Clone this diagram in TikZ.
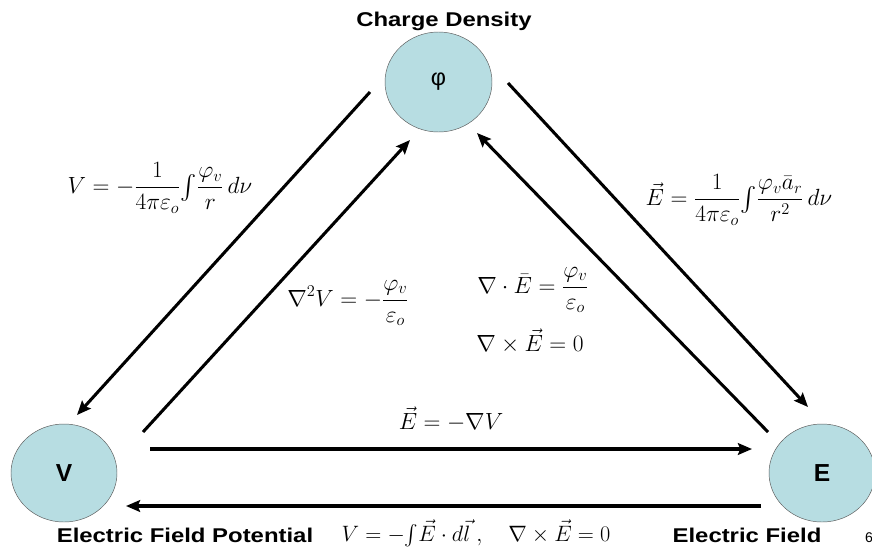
\RequirePackage{fix-cm}
\documentclass[tikz,border=0pt]{standalone}
\usepackage{amsmath}
\usepackage{fontspec}
\newfontfamily\arialb{Liberation Sans}
\usetikzlibrary{calc,arrows.meta,positioning,shapes.geometric}
\definecolor{bluex}{HTML}{B7DDE2}
\definecolor{rimx}{HTML}{5A5A5A}
\tikzset{
  ar/.style={-{Stealth[length=12pt,width=10pt,inset=2pt]},line width=2.6pt},
  ball/.style={ellipse,draw=rimx,thin,fill=bluex,inner sep=0pt,minimum width=3.18cm,minimum height=2.94cm},
  lbl/.style={font=\fontsize{17}{20}\selectfont\arialb\bfseries},
  eq/.style={font=\fontsize{20}{24}\selectfont,inner sep=1pt}
}
\newcommand{\wide}[1]{\scalebox{1.2}[1]{#1}}

\begin{document}
\begin{tikzpicture}[x=0.03cm,y=-0.03cm]
\useasboundingbox (0,0) rectangle (872,550);
% the three quantities
\node[ball,minimum width=3.21cm,minimum height=3cm] (phi) at (438.5,82) {\fontsize{20}{22}\selectfont\arialb φ};
\node[ball] (V) at (64,473) {\fontsize{21}{23}\selectfont\arialb\bfseries V};
\node[ball] (E) at (822,473) {\fontsize{21}{23}\selectfont\arialb\bfseries E};
\node[lbl] (tphi) at (444,21) {\wide{Charge Density}};
\node[lbl] (tV) at (185,535) {\wide{Electric Field Potential}};
\node[lbl] (tE) at (747,535) {\wide{Electric Field}};
\node[font=\fontsize{12}{14}\selectfont\arialb] (pg) at (869,538) {6};
% arrows
\draw[ar] ($(phi)+(-68.5,10)$) -- ($(V)+(13,-58)$);
\draw[ar] ($(V)+(79,-41)$) -- ($(phi)+(-28.5,58)$);
\draw[ar] ($(E)+(-54,-41)$) -- ($(phi)+(38.5,51)$);
\draw[ar] ($(phi)+(69.5,1)$) -- ($(E)+(-14,-66)$);
\draw[ar] ($(V)+(86,-24)$) -- ($(E)+(-70,-24)$);
\draw[ar] ($(E)+(-61,33)$) -- ($(V)+(62,33)$);
% relations
\node[eq] (q1) at (160,188) {$\displaystyle V=-\frac{1}{4\pi\varepsilon_o}{\textstyle\int}\frac{\varphi_v}{r}\,d\nu$};
\node[eq] (q2) at (739,200) {$\displaystyle \vec{E}=\frac{1}{4\pi\varepsilon_o}{\textstyle\int}\frac{\varphi_v\bar{a}_r}{r^2}\,d\nu$};
\node[eq] (q3) at (348,303) {$\displaystyle \nabla^2V=-\frac{\varphi_v}{\varepsilon_o}$};
\node[eq] (q4) at (533,290) {$\displaystyle \nabla\cdot\bar{E}=\frac{\varphi_v}{\varepsilon_o}$};
\node[eq] (q5) at (530,341) {$\nabla\times\vec{E}=0$};
\node[eq] (q6) at (451,419) {$\vec{E}=-\nabla V$};
\node[eq,font=\fontsize{19}{22}\selectfont] (q7) at (476,533) {$V=-{\textstyle\int}\vec{E}\cdot d\vec{l}\;,\quad \nabla\times\vec{E}=0$};
\end{tikzpicture}
\end{document}
